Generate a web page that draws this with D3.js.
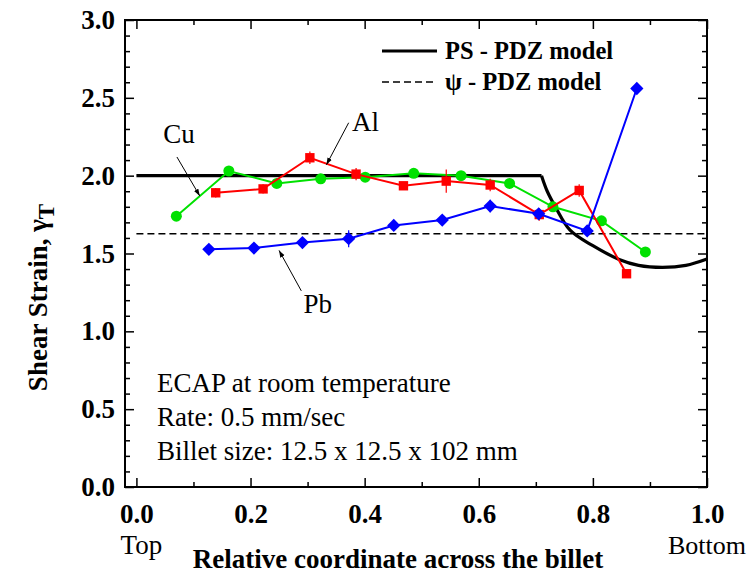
<!DOCTYPE html>
<html>
<head>
<meta charset="utf-8">
<script src="https://cdn.jsdelivr.net/npm/d3@7"></script>
<style>
  body { margin: 0; background: #fff; }
  svg text { font-family: "Liberation Serif", "Times New Roman", serif; fill: #000; }
  .bold { font-weight: bold; }
</style>
</head>
<body>
<div id="chart"></div>
<script>
// Shear strain across the billet
var cuX = [0.070, 0.162, 0.246, 0.323, 0.401, 0.486, 0.569, 0.654, 0.730, 0.815, 0.892],
    cuY = [1.74, 2.03, 1.95, 1.98, 1.99, 2.015, 2.00, 1.95, 1.80, 1.71, 1.51],
    cuErr = [0, 0, 0, 0, 0, 0.02, 0, 0, 0.03, 0, 0];

var alX = [0.139, 0.222, 0.304, 0.385, 0.468, 0.543, 0.620, 0.706, 0.776, 0.859],
    alY = [1.89, 1.915, 2.115, 2.01, 1.935, 1.965, 1.94, 1.75, 1.905, 1.37],
    alErr = [0.03, 0.03, 0.04, 0.04, 0.02, 0.075, 0.04, 0.04, 0.04, 0];

var pbX = [0.127, 0.206, 0.291, 0.372, 0.451, 0.536, 0.620, 0.705, 0.790, 0.877],
    pbY = [1.527, 1.535, 1.57, 1.595, 1.68, 1.715, 1.805, 1.755, 1.645, 2.56],
    pbErr = [0, 0, 0, 0.055, 0, 0, 0.04, 0.03, 0, 0];

// models
var psFlatX = [0.0, 0.71],
    psFlatY = [2.0, 2.0],
    psCurveX = [0.71, 0.72, 0.735, 0.76, 0.80, 0.846, 0.88, 0.922, 0.963, 1.0],
    psCurveY = [2.0, 1.90, 1.795, 1.65, 1.55, 1.462, 1.424, 1.411, 1.424, 1.465];
var psiX = [0.0, 1.0],
    psiY = [1.627, 1.627];

var xMajor = [0, 0.2, 0.4, 0.6, 0.8, 1.0],
    xMinor = [0.1, 0.3, 0.5, 0.7, 0.9],
    yMajor = [0, 0.5, 1.0, 1.5, 2.0, 2.5, 3.0];
var yMinor = [];
for (var i = 1; i < 30; i++) { if (i % 5 != 0) yMinor.push(i / 10); }

var notes = ["ECAP at room temperature", "Rate: 0.5 mm/sec", "Billet size: 12.5 x 12.5 x 102 mm"];

var margin = {top: 20, right: 43, bottom: 88, left: 125},
    W = 750, H = 575,
    width = W - margin.left - margin.right,
    height = H - margin.top - margin.bottom;

var svg = d3.select("#chart").append("svg")
    .attr("width", W)
    .attr("height", H)
  .append("g")
    .attr("transform", "translate(" + margin.left + "," + margin.top + ")");

var x = d3.scaleLinear().domain([-0.02, 1.0]).range([0, width]),
    y = d3.scaleLinear().domain([0, 3.0]).range([height, 0]);

function fmt(d) { return d3.format(".1f")(d); }

// axes, ticks pointing inward
function addAxis(gen, tr, vals, size, labels) {
  var g = svg.append("g")
      .attr("transform", tr)
      .call(gen.tickValues(vals).tickSize(size).tickFormat(labels ? fmt : ""));
  g.select(".domain").remove();
  g.attr("font-family", null).attr("font-size", null);
  g.selectAll(".tick line").attr("stroke", "#000").attr("stroke-width", 1.5);
  return g;
}

var xb = addAxis(d3.axisBottom(x), "translate(0," + height + ")", xMajor, -9, true);
addAxis(d3.axisBottom(x), "translate(0," + height + ")", xMinor, -5, false);
addAxis(d3.axisTop(x), "translate(0,0)", xMajor, -9, false);
addAxis(d3.axisTop(x), "translate(0,0)", xMinor, -5, false);
var yl = addAxis(d3.axisLeft(y), "translate(0,0)", yMajor, -9, true);
addAxis(d3.axisLeft(y), "translate(0,0)", yMinor, -5, false);
addAxis(d3.axisRight(y), "translate(" + width + ",0)", yMajor, -9, false);
addAxis(d3.axisRight(y), "translate(" + width + ",0)", yMinor, -5, false);

xb.selectAll(".tick text")
    .attr("class", "bold")
    .attr("y", 17)
    .attr("dy", "0.71em")
    .style("font-size", "27px");
yl.selectAll(".tick text")
    .attr("class", "bold")
    .attr("x", -10)
    .style("font-size", "27px");

svg.append("rect")
    .attr("width", width)
    .attr("height", height)
    .attr("fill", "none")
    .attr("stroke", "#000")
    .attr("stroke-width", 2);

// model lines
function pts(xs, ys) { return xs.map(function(v, i) { return [v, ys[i]]; }); }

var straight = d3.line().x(function(d) { return x(d[0]); }).y(function(d) { return y(d[1]); });
var smooth = d3.line().curve(d3.curveCatmullRom.alpha(0.5))
    .x(function(d) { return x(d[0]); }).y(function(d) { return y(d[1]); });

svg.append("path")
    .attr("d", straight(pts(psiX, psiY)))
    .attr("fill", "none").attr("stroke", "#000").attr("stroke-width", 1.4)
    .attr("stroke-dasharray", "7,4");

svg.append("path")
    .attr("d", straight(pts(psFlatX, psFlatY)))
    .attr("fill", "none").attr("stroke", "#000").attr("stroke-width", 3.2);
svg.append("path")
    .attr("d", smooth(pts(psCurveX, psCurveY)))
    .attr("fill", "none").attr("stroke", "#000").attr("stroke-width", 3.2)
    .attr("stroke-linejoin", "round");

// measured series
var series = [
  {name: "Cu", xs: cuX, ys: cuY, err: cuErr, color: "#00e100", shape: d3.symbolCircle, size: 95, rot: 0},
  {name: "Al", xs: alX, ys: alY, err: alErr, color: "#ff0000", shape: d3.symbolSquare, size: 88, rot: 0},
  {name: "Pb", xs: pbX, ys: pbY, err: pbErr, color: "#0000ff", shape: d3.symbolSquare, size: 88, rot: 45}
];

series.forEach(function(s) {
  var data = pts(s.xs, s.ys).map(function(d, i) { return [d[0], d[1], s.err[i]]; });
  var g = svg.append("g");
  g.append("path")
      .attr("d", straight(data))
      .attr("fill", "none")
      .attr("stroke", s.color)
      .attr("stroke-width", 2);
  g.selectAll("line.err")
      .data(data.filter(function(d) { return d[2] > 0; }))
    .enter().append("line")
      .attr("x1", function(d) { return x(d[0]); })
      .attr("x2", function(d) { return x(d[0]); })
      .attr("y1", function(d) { return y(d[1] - d[2]); })
      .attr("y2", function(d) { return y(d[1] + d[2]); })
      .attr("stroke", s.color)
      .attr("stroke-width", 1.2);
  g.selectAll("path.pt")
      .data(data)
    .enter().append("path")
      .attr("d", d3.symbol().type(s.shape).size(s.size))
      .attr("transform", function(d) {
        return "translate(" + x(d[0]) + "," + y(d[1]) + ") rotate(" + s.rot + ")";
      })
      .attr("fill", s.color);
});

// arrow labels
svg.append("defs").append("marker")
    .attr("id", "head")
    .attr("viewBox", "0 0 10 10")
    .attr("refX", 10).attr("refY", 5)
    .attr("markerWidth", 7).attr("markerHeight", 7)
    .attr("orient", "auto")
  .append("path")
    .attr("d", "M0,1.5L10,5L0,8.5Z")
    .attr("fill", "#000");

var callouts = [
  {text: "Cu", tx: 0.047, ty: 2.21, ax: [0.071, 2.12], ah: [0.111, 1.87]},
  {text: "Al", tx: 0.378, ty: 2.29, ax: [0.372, 2.34], ah: [0.333, 2.07]},
  {text: "Pb", tx: 0.293, ty: 1.12, ax: [0.289, 1.26], ah: [0.250, 1.52]}
];
callouts.forEach(function(c) {
  svg.append("text")
      .attr("x", x(c.tx)).attr("y", y(c.ty))
      .style("font-size", "27px")
      .text(c.text);
  svg.append("line")
      .attr("x1", x(c.ax[0])).attr("y1", y(c.ax[1]))
      .attr("x2", x(c.ah[0])).attr("y2", y(c.ah[1]))
      .attr("stroke", "#000").attr("stroke-width", 1)
      .attr("marker-end", "url(#head)");
});

// legend
var legend = svg.append("g").attr("transform", "translate(257,31)");
legend.append("line").attr("x1", 0).attr("x2", 55).attr("y1", 0).attr("y2", 0)
    .attr("stroke", "#000").attr("stroke-width", 3.2);
legend.append("line").attr("x1", 0).attr("x2", 55).attr("y1", 31).attr("y2", 31)
    .attr("stroke", "#000").attr("stroke-width", 1.4).attr("stroke-dasharray", "7,4");
legend.append("text").attr("class", "bold").attr("x", 63).attr("y", 8)
    .style("font-size", "24.5px").text("PS - PDZ model");
legend.append("text").attr("class", "bold").attr("x", 63).attr("y", 39)
    .style("font-size", "24.5px").text("\u03c8 - PDZ model");

// notes
svg.append("g").selectAll("text")
    .data(notes)
  .enter().append("text")
    .attr("x", 32)
    .attr("y", function(d, i) { return 372 + i * 34; })
    .style("font-size", "27px")
    .text(function(d) { return d; });

// axis titles
svg.append("text")
    .attr("x", x(0.0) + 5).attr("y", height + 67)
    .attr("text-anchor", "middle")
    .style("font-size", "27px")
    .text("Top");
svg.append("text")
    .attr("x", x(1.0)).attr("y", height + 67)
    .attr("text-anchor", "middle")
    .style("font-size", "26px")
    .text("Bottom");
svg.append("text")
    .attr("class", "bold")
    .attr("x", 273).attr("y", height + 81)
    .attr("text-anchor", "middle")
    .style("font-size", "27px")
    .text("Relative coordinate across the billet");

var yt = svg.append("text")
    .attr("class", "bold")
    .attr("transform", "translate(-78," + (height / 2 + 44) + ") rotate(-90)")
    .attr("text-anchor", "middle")
    .style("font-size", "27px");
yt.append("tspan").text("Shear Strain, \u03b3");
yt.append("tspan").attr("dy", 7).style("font-size", "23px").text("T");
</script>
</body>
</html>
